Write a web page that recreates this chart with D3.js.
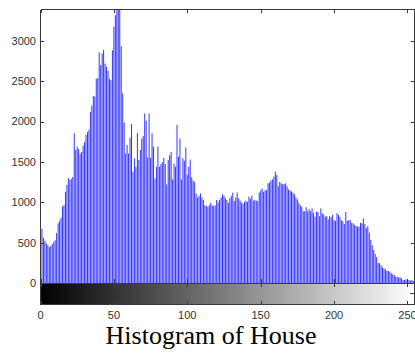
<!DOCTYPE html>
<html><head><meta charset="utf-8">
<script src="https://cdn.jsdelivr.net/npm/d3@7"></script>
<style>html,body{margin:0;padding:0;background:#fff;} svg{display:block}</style>
</head><body><svg id="c" width="415" height="355"></svg>
<script>
// Pixel counts per gray level (0..255)
const counts = [
 990,670,560,525,490,470,445,460,480,510,
 530,620,740,770,810,950,965,1130,1215,1300,
 1275,1290,1315,1855,1650,1690,1660,1600,1625,1700,
 1745,1835,1870,1900,2120,2200,2320,2310,2530,2540,
 2860,2700,2845,2890,2720,2680,2630,2530,2515,2885,
 3175,3320,3700,3600,3450,2935,2350,1990,1605,1710,
 1605,1800,1970,1380,1545,1440,1860,1525,1650,1790,
 1820,2100,2010,1555,2100,1555,1855,1690,1295,1440,
 1690,1440,1470,1500,1550,1475,1220,1525,1585,1625,
 1285,1480,1440,1960,1565,1790,1285,1545,1515,1680,
 1340,1440,1530,1310,1270,1250,1110,1060,1080,1110,
 1060,1030,965,955,945,965,995,960,960,960,
 1030,1000,1030,1060,1100,1080,1050,1030,995,1050,
 1080,1120,1015,1060,1120,1050,1020,995,980,1005,
 1020,1005,1070,1045,1080,1020,1030,1020,1015,1120,
 1145,1170,1130,1150,1150,1235,1245,1270,1285,1320,
 1380,1340,1200,1255,1235,1225,1225,1235,1200,1160,
 1145,1135,1120,1100,1060,1035,995,965,945,890,
 890,940,890,915,890,925,870,820,880,880,
 830,925,865,845,820,830,790,830,815,845,
 780,770,865,845,820,780,765,730,880,770,
 780,780,745,740,720,705,700,700,745,740,
 800,730,680,705,625,535,470,410,360,320,
 250,245,220,195,180,170,150,150,140,120,
 108,100,78,78,70,70,58,37,37,45,
 28,37,28,37,25,15
];
const levels = counts.map((d, i) => i);
const xTickValues = [0, 50, 100, 150, 200, 250];
const yTickValues = [0, 500, 1000, 1500, 2000, 2500, 3000];
const yMax = 3390;
const titleText = "Histogram of House";

(function () {
const svg = d3.select("#c");
const pLeft = 40.5, pRight = 414.8, pTop = 9.5, base = 283, barBottom = 305;
const x = d3.scaleLinear().domain([0, 255]).range([pLeft, pRight]);
const y = d3.scaleLinear().domain([0, yMax]).range([base, pTop]);
const axisColor = "#3a3a3a";
const font = "'Liberation Sans', Arial, sans-serif";

const defs = svg.append("defs");
defs.append("clipPath").attr("id", "clip")
  .append("rect").attr("x", 0).attr("y", pTop).attr("width", 415).attr("height", base - pTop);

// stems
svg.append("g").attr("clip-path", "url(#clip)")
  .selectAll("line").data(levels).join("line")
  .attr("x1", d => x(d)).attr("x2", d => x(d))
  .attr("y1", y(0)).attr("y2", d => y(counts[d]))
  .attr("stroke", "#0000ff").attr("stroke-width", 0.8);

// histogram axes box
const g = svg.append("g").attr("shape-rendering", "crispEdges");
g.append("line").attr("x1", 40.5).attr("x2", 40.5).attr("y1", pTop).attr("y2", base).attr("stroke", axisColor);
g.append("line").attr("x1", 40.5).attr("x2", 415).attr("y1", pTop).attr("y2", pTop).attr("stroke", axisColor);
g.append("line").attr("x1", 414.5).attr("x2", 414.5).attr("y1", pTop).attr("y2", base).attr("stroke", axisColor);

// y ticks (left and right, inward)
yTickValues.forEach(v => {
  const yy = Math.round(y(v)) + 0.5;
  g.append("line").attr("x1", 41).attr("x2", 44).attr("y1", yy).attr("y2", yy).attr("stroke", axisColor);
  g.append("line").attr("x1", 411).attr("x2", 414).attr("y1", yy).attr("y2", yy).attr("stroke", axisColor);
});
// top and bottom x ticks of histogram axes
xTickValues.forEach(v => {
  const xx = Math.round(x(v)) + 0.5;
  g.append("line").attr("x1", xx).attr("x2", xx).attr("y1", pTop).attr("y2", pTop + 3.5).attr("stroke", axisColor);
  g.append("line").attr("x1", xx).attr("x2", xx).attr("y1", base - 4).attr("y2", base).attr("stroke", axisColor);
});

// y tick labels
svg.append("g").selectAll("text").data(yTickValues).join("text")
  .attr("x", 36).attr("y", d => y(d)).attr("dy", "0.35em")
  .attr("text-anchor", "end").attr("font-family", font).attr("font-size", 11)
  .attr("fill", "#333").text(d => d);

// gradient bar
const grad = defs.append("linearGradient").attr("id", "gray")
  .attr("gradientUnits", "userSpaceOnUse")
  .attr("x1", x(0)).attr("x2", x(255)).attr("y1", 0).attr("y2", 0);
grad.append("stop").attr("offset", 0).attr("stop-color", "#000");
grad.append("stop").attr("offset", 1).attr("stop-color", "#fff");
svg.append("rect").attr("x", 40).attr("y", base).attr("width", 375).attr("height", barBottom - base)
  .attr("fill", "url(#gray)");
const gb = svg.append("g").attr("shape-rendering", "crispEdges");
gb.append("rect").attr("x", 40.5).attr("y", base + 0.5).attr("width", 374).attr("height", barBottom - base - 1)
  .attr("fill", "none").attr("stroke", axisColor);
xTickValues.forEach(v => {
  const xx = Math.round(x(v)) + 0.5;
  gb.append("line").attr("x1", xx).attr("x2", xx).attr("y1", base).attr("y2", base + 4).attr("stroke", axisColor);
  gb.append("line").attr("x1", xx).attr("x2", xx).attr("y1", barBottom - 4).attr("y2", barBottom).attr("stroke", axisColor);
});
gb.append("line").attr("x1", 410).attr("x2", 414).attr("y1", 293.5).attr("y2", 293.5).attr("stroke", axisColor);

// x tick labels
svg.append("g").selectAll("text").data(xTickValues).join("text")
  .attr("x", d => x(d)).attr("y", 318.5)
  .attr("text-anchor", "middle").attr("font-family", font).attr("font-size", 11)
  .attr("fill", "#333").text(d => d);

// title
svg.append("text").attr("x", 211).attr("y", 344).attr("text-anchor", "middle")
  .attr("font-family", "'Liberation Serif', 'Times New Roman', serif").attr("font-size", 26)
  .attr("fill", "#000").text(titleText);
})();
</script></body></html>
